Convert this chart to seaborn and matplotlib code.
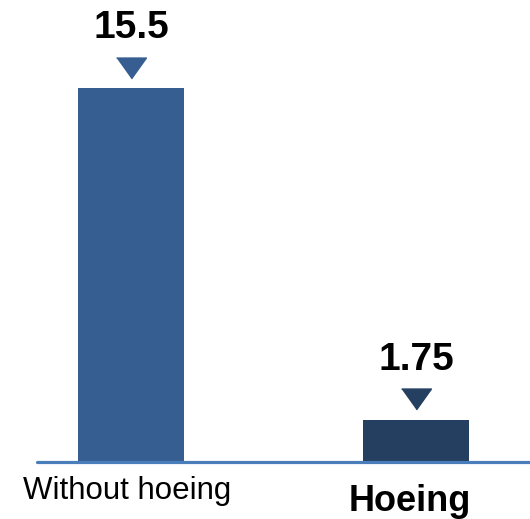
import matplotlib
matplotlib.use('Agg')
import matplotlib.pyplot as plt
import seaborn as sns
import pandas as pd

categories = ['Without hoeing', 'Hoeing']
values = [15.5, 1.75]
value_labels = ['15.5', '1.75']
bar_colors = ['#375E91', '#243F60']

sns.set_style('white')
plt.rcParams['font.family'] = ['Liberation Sans', 'DejaVu Sans']

df = pd.DataFrame({'cat': categories, 'val': values})

fig = plt.figure(figsize=(5.30, 5.19), dpi=100)
ax = fig.add_axes([37 / 530, 57 / 519, 493 / 530, 462 / 519])

sns.barplot(data=df, x='cat', y='val', hue='cat', palette=bar_colors,
            width=0.372, legend=False, saturation=1, linewidth=0, ax=ax)

ax.set_xlim(-0.33, 1.4)
ax.set_ylim(0, 19.15)
ax.axhline(0, color='#4A7EBB', lw=2.3, clip_on=False, zorder=5)

for s in ax.spines.values():
    s.set_visible(False)
ax.set_yticks([])
ax.set_xticks([])
ax.set_xlabel('')
ax.set_ylabel('')

# category labels under the baseline
label_style = [dict(fontsize=22.5, fontweight='normal', dx=-2.5, dy=-26.5),
               dict(fontsize=26, fontweight='bold', dx=-4.7, dy=-35)]
for i, (c, st) in enumerate(zip(categories, label_style)):
    ax.annotate(c, xy=(i, 0), xytext=(st['dx'], st['dy']),
                textcoords='offset points', ha='center', va='baseline',
                fontsize=st['fontsize'], fontweight=st['fontweight'],
                color='black', annotation_clip=False)

# down triangles and value labels above the bars
tri = [(-1, 0.7), (1, 0.7), (0, -0.7)]
for i, (v, t) in enumerate(zip(values, value_labels)):
    ax.plot([i], [v + 20.5 / 24.1], marker=tri, markersize=21.5,
            color=bar_colors[i], linestyle='none', clip_on=False)
    ax.annotate(t, xy=(i, v), xytext=(0, 43.3), textcoords='offset points',
                ha='center', va='center', fontsize=28, fontweight='bold',
                color='black')

fig.savefig('out.png', dpi=100)
